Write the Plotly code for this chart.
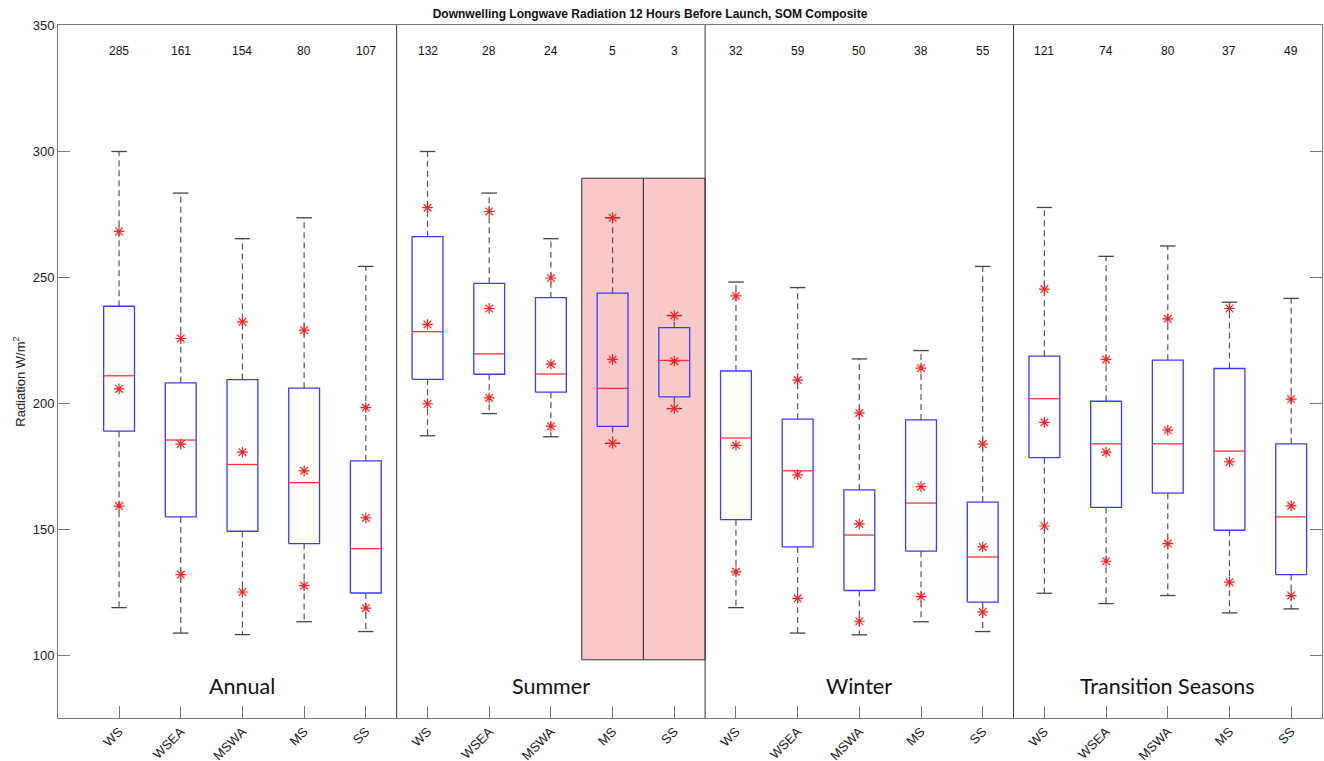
import numpy as np
import plotly.graph_objects as go

# ---------------- data ----------------
categories = ["WS", "WSEA", "MSWA", "MS", "SS"]
groups = ["Annual", "Summer", "Winter", "Transition Seasons"]
counts = [285, 161, 154, 80, 107,
          132, 28, 24, 5, 3,
          32, 59, 50, 38, 55,
          121, 74, 80, 37, 49]
whisker_max = [300.0, 283.5, 265.4, 273.7, 254.4,
               300.0, 283.5, 265.4, 273.7, 234.9,
               248.2, 246.0, 217.7, 221.0, 254.4,
               277.8, 258.4, 262.5, 240.2, 241.7]
upper_star = [268.3, 225.8, 232.4, 229.1, 198.4,
              277.7, 276.2, 249.8, 273.7, 234.9,
              242.7, 209.3, 196.2, 214.0, 183.9,
              245.4, 217.5, 233.6, 237.7, 201.7]
q3 = [238.6, 208.2, 209.5, 206.1, 177.2,
      266.2, 247.7, 242.0, 243.8, 230.1,
      212.9, 193.8, 165.7, 193.5, 160.9,
      218.8, 200.9, 217.2, 213.9, 184.0]
median = [211.0, 185.5, 175.8, 168.6, 142.4,
          228.5, 219.7, 211.7, 206.0, 217.1,
          186.3, 173.3, 147.8, 160.5, 139.1,
          201.9, 184.0, 184.0, 181.1, 155.0]
mean = [205.8, 183.9, 180.7, 173.3, 154.6,
        231.4, 237.7, 215.6, 217.5, 216.8,
        183.4, 171.7, 152.2, 167.0, 143.1,
        192.5, 180.7, 189.4, 176.8, 159.4]
q1 = [189.0, 155.0, 149.3, 144.4, 124.8,
      209.6, 211.6, 204.5, 190.9, 202.6,
      153.9, 143.1, 125.8, 141.4, 121.2,
      178.5, 158.8, 164.4, 149.7, 132.1]
lower_star = [159.3, 132.1, 125.2, 127.7, 118.8,
              199.9, 202.2, 191.0, 184.2, 198.0,
              133.2, 122.7, 113.6, 123.4, 117.3,
              151.4, 137.4, 144.4, 129.1, 123.8]
whisker_min = [119.0, 108.9, 108.3, 113.4, 109.5,
               187.2, 196.0, 186.8, 184.2, 198.0,
               119.0, 108.9, 108.2, 113.4, 109.5,
               124.7, 120.6, 123.8, 116.9, 118.5]
highlight_boxes = [9, 10]          # Summer MS, Summer SS
highlight_range = [98.3, 289.4]
count_level = 340
label_level = 88

# ---------------- geometry helpers ----------------
n = len(counts)
xpos = np.arange(1, n + 1)
tick_text = categories * len(groups)
BOX_HALF = 0.25
CAP_HALF = 0.125

wx, wy, cx, cy, bx, by, mx, my = [], [], [], [], [], [], [], []
for i, x in enumerate(xpos):
    wx += [x, x, None, x, x, None]
    wy += [q3[i], whisker_max[i], None, q1[i], whisker_min[i], None]
    cx += [x - CAP_HALF, x + CAP_HALF, None, x - CAP_HALF, x + CAP_HALF, None]
    cy += [whisker_max[i], whisker_max[i], None, whisker_min[i], whisker_min[i], None]
    bx += [x - BOX_HALF, x + BOX_HALF, x + BOX_HALF, x - BOX_HALF, x - BOX_HALF, None]
    by += [q1[i], q1[i], q3[i], q3[i], q1[i], None]
    mx += [x - BOX_HALF, x + BOX_HALF, None]
    my += [median[i], median[i], None]

fig = go.Figure()
fig.add_trace(go.Scatter(x=wx, y=wy, mode="lines", hoverinfo="skip",
                         line=dict(color="#555555", width=1.2, dash="6px,4px")))
fig.add_trace(go.Scatter(x=cx, y=cy, mode="lines", hoverinfo="skip",
                         line=dict(color="#444444", width=1.3)))
fig.add_trace(go.Scatter(x=bx, y=by, mode="lines", hoverinfo="skip",
                         line=dict(color="#3b3bff", width=1.3)))
fig.add_trace(go.Scatter(x=mx, y=my, mode="lines", hoverinfo="skip",
                         line=dict(color="#ff3030", width=1.3)))
star_x = list(xpos) * 3
star_y = upper_star + mean + lower_star
fig.add_trace(go.Scatter(x=star_x, y=star_y, mode="markers", hoverinfo="skip",
                         marker=dict(symbol="asterisk-open", size=9,
                                     color="#ff2020",
                                     line=dict(color="#ff2020", width=1.2))))

shapes = []
for k in highlight_boxes:
    shapes.append(dict(type="rect", xref="x", yref="y",
                       x0=k - 0.5, x1=k + 0.5,
                       y0=highlight_range[0], y1=highlight_range[1],
                       fillcolor="#f9c8c8", line=dict(color="#333333", width=1),
                       layer="below"))
for g in range(1, len(groups)):
    sep = g * len(categories) + 0.5
    shapes.append(dict(type="line", xref="x", yref="paper", x0=sep, x1=sep,
                       y0=0, y1=1, line=dict(color="#333333", width=1)))

annotations = []
for i, x in enumerate(xpos):
    annotations.append(dict(x=x, y=count_level, xref="x", yref="y",
                            text=str(counts[i]), showarrow=False,
                            font=dict(family="Liberation Sans, Arial", size=12,
                                      color="#111111")))
for g, name in enumerate(groups):
    center = g * len(categories) + (len(categories) + 1) / 2
    annotations.append(dict(x=center, y=label_level, xref="x", yref="y",
                            text=name, showarrow=False,
                            font=dict(family="Lato, Open Sans, sans-serif", size=21.5,
                                      color="#111111")))
# y-axis title placed as a rotated annotation
annotations.append(dict(x=(19 - 58) / 1264, y=1 - (382 - 25) / 693.5,
                        xref="paper", yref="paper", textangle=-90,
                        text="Radiation W/m<sup>2</sup>", showarrow=False,
                        xanchor="center", yanchor="middle",
                        font=dict(family="Liberation Sans, Arial", size=13,
                                  color="#222222")))

fig.update_layout(
    width=1324, height=761,
    margin=dict(l=58, r=2, t=25, b=43, autoexpand=False),
    paper_bgcolor="white", plot_bgcolor="white",
    showlegend=False,
    shapes=shapes,
    annotations=annotations,
    title=dict(text="<b>Downwelling Longwave Radiation 12 Hours Before Launch, SOM Composite</b>",
               x=650 / 1324, xanchor="center", xref="container",
               y=1 - 14 / 761, yanchor="middle", yref="container",
               font=dict(family="Liberation Sans, Arial", size=12, color="#111111")),
    font=dict(family="Liberation Sans, Arial", size=12, color="#222222"),
)
fig.update_xaxes(range=[0.01, 20.5], tickmode="array", tickvals=list(xpos),
                 ticktext=tick_text, tickangle=-45, ticks="inside", ticklen=12,
                 tickcolor="#777777", showline=True, linecolor="#777777",
                 mirror=True, showgrid=False, zeroline=False, automargin=False,
                 tickfont=dict(size=13, color="#222222"))
fig.update_yaxes(range=[75.2, 350.2], tickmode="array",
                 tickvals=[100, 150, 200, 250, 300, 350],
                 ticks="inside", ticklen=12, tickcolor="#777777",
                 showline=True, linecolor="#777777", mirror="ticks",
                 showgrid=False, zeroline=False, automargin=False,
                 tickfont=dict(size=13, color="#222222"))

fig.write_html("out.html",
               config={"displayModeBar": False},
               post_script="document.body.style.margin='0px';"
                           "document.body.style.overflow='hidden';")
